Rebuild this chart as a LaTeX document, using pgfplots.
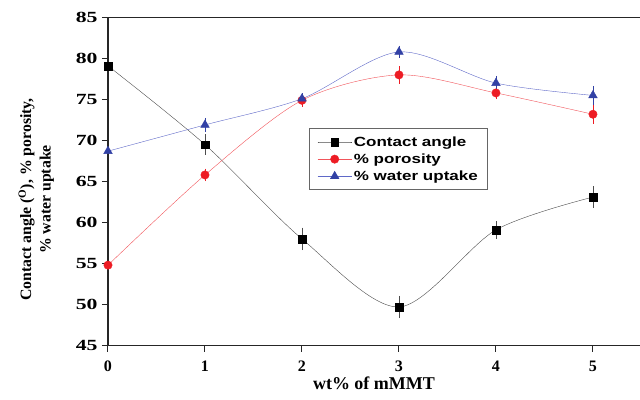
\documentclass[border=0pt]{standalone}
\usepackage{pgfplots}
\pgfplotsset{compat=1.18}
\usepackage{fontspec}
\setmainfont{Liberation Serif}
\newfontfamily\ytickfont[FakeStretch=1.4]{Liberation Serif}
\newfontfamily\legfont[FakeStretch=1.28]{Liberation Sans}
\definecolor{cred}{RGB}{237,28,36}
\definecolor{cblue}{RGB}{50,65,165}
\definecolor{cblueline}{RGB}{95,105,200}
\begin{document}
\begin{tikzpicture}
\begin{axis}[
  scale only axis, width=532pt, height=328pt,
  xmin=0, xmax=5.485, ymin=45, ymax=85,
  axis x line*=bottom, axis y line*=left,
  axis line style={-, line width=1.1pt, black!85},
  axis on top,
  xtick={0,1,2,3,4,5}, ytick={45,50,...,85},
  tick align=outside, major tick length=6pt,
  tick style={black!85, line width=1pt},
  minor tick num=0,
  /pgf/number format/assume math mode=true,
  xticklabel style={font=\fontsize{16}{18}\selectfont\bfseries, yshift=-6pt},
  yticklabel style={font=\ytickfont\fontsize{15.5}{18}\selectfont\bfseries, xshift=-1pt},
  xlabel={wt\% of mMMT},
  xlabel style={font=\fontsize{18}{20}\selectfont\bfseries, yshift=2pt},
  ylabel={\shortstack{Contact angle (\textsuperscript{O}), \% porosity,\\[2pt]\% water uptake}},
  ylabel style={font=\fontsize{15.8}{18}\selectfont\bfseries, yshift=15pt, xshift=-18pt},
  legend style={at={(0.378,0.663)}, anchor=north west, draw=black!60, line width=0.8pt,
    font=\legfont\fontsize{13.3}{15}\selectfont\bfseries, row sep=2pt, inner xsep=8pt, inner ysep=6pt},
  legend cell align=left,
  legend image code/.code={\draw[mark repeat=2,mark phase=2,#1] plot coordinates {(0pt,0pt) (17pt,0pt) (34pt,0pt)};},
  clip=false,
]
\draw[line width=1.1pt, black!85] (rel axis cs:0,1) -- (rel axis cs:1,1);
\addplot[black!70, thin, smooth, mark=square*, mark size=3.9pt,
  mark options={fill=black, draw=black, solid},
  error bars/.cd, y dir=both, y explicit, error bar style={black!70, thin}, error mark options={black!70, thin, mark size=3pt}]
  coordinates {(0,79.1) +- (0,0.9) (1,69.5) +- (0,0.9) (2,58.0) +- (0,1) (3,49.7) +- (0,1) (4,59.1) +- (0,0.7) (5,63.1) +- (0,0.95)};
\addlegendentry{Contact angle}
\addplot[cred!75, thin, smooth, mark=*, mark size=4.2pt,
  mark options={fill=cred, draw=cred, solid},
  error bars/.cd, y dir=both, y explicit, error bar style={cred, thin}, error mark options={cred, thin, mark size=3pt}]
  coordinates {(0,54.8) +- (0,0.3) (1,65.8) +- (0,0.4) (2,74.9) +- (0,0.4) (3,78.0) +- (0,0.7) (4,75.8) +- (0,0.4) (5,73.2) +- (0,0.8)};
\addlegendentry{\% porosity}
\addplot[cblueline, thin, smooth, mark=triangle*, mark size=5pt,
  mark options={fill=cblue, draw=cblue, solid},
  error bars/.cd, y dir=both, y explicit, error bar style={cblue, thin}, error mark options={cblue, thin, mark size=3pt}]
  coordinates {(0,68.7) +- (0,0.3) (1,71.9) +- (0,0.5) (2,75.1) +- (0,0.3) (3,80.8) +- (0,0.4) (4,77.0) +- (0,0.5) (5,75.5) +- (0,0.8)};
\addlegendentry{\% water uptake}
\end{axis}
\pgfresetboundingbox
\path[use as bounding box] (-108pt,-53.5pt) rectangle (532pt,345.5pt);
\end{tikzpicture}
\end{document}
